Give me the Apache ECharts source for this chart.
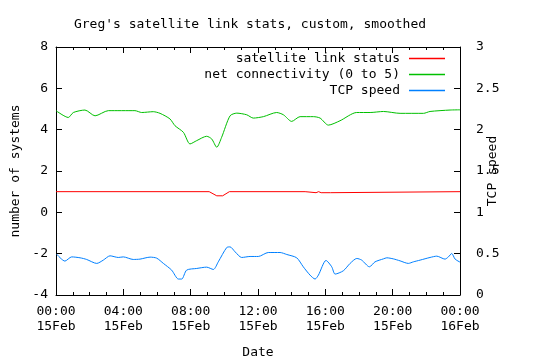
<!DOCTYPE html>
<html><head><meta charset="utf-8">
<script src="https://cdn.jsdelivr.net/npm/echarts@6/dist/echarts.min.js"></script>
<style>html,body{margin:0;padding:0;background:#fff}#c{width:540px;height:360px}</style>
</head><body><div id="c"></div>
<script>
var xTickLabels = ['00:00\n15Feb','04:00\n15Feb','08:00\n15Feb','12:00\n15Feb','16:00\n15Feb','20:00\n15Feb','00:00\n16Feb'];
var seriesNames = ['satellite link status','net connectivity (0 to 5)','TCP speed'];

var statusHours = [0, 9.1, 9.55, 9.9, 10.3, 14.8, 14.9, 15.45, 15.6, 15.75, 16.3, 16.4, 24];
var statusValues = [1, 1, 0.8, 0.8, 1, 1, 0.95, 0.95, 1, 0.95, 0.95, 1, 1];

var connHours = [0, 0.73, 1.03, 1.72, 2.32, 3.11, 4.69, 5.09, 5.78, 6.18, 6.77, 7.07, 7.57, 7.96, 8.36, 8.95, 9.25, 9.55, 9.84, 10.34, 10.74, 11.33, 11.72, 12.32, 13.11, 13.51, 14.0, 14.5, 15.29, 15.69, 16.18, 16.87, 17.86, 18.66, 19.45, 20.44, 21.83, 22.22, 23.41, 24];
var connValues = [4.92, 4.59, 4.83, 4.95, 4.67, 4.92, 4.92, 4.83, 4.87, 4.79, 4.52, 4.19, 3.87, 3.31, 3.47, 3.68, 3.55, 3.15, 3.63, 4.67, 4.80, 4.72, 4.56, 4.63, 4.83, 4.72, 4.40, 4.63, 4.63, 4.56, 4.22, 4.43, 4.83, 4.83, 4.88, 4.79, 4.79, 4.88, 4.95, 4.96];

var tcpHours = [0.04, 0.53, 0.93, 1.43, 1.82, 2.42, 2.81, 3.21, 3.70, 4.0, 4.59, 4.99, 5.59, 5.98, 6.38, 6.87, 7.27, 7.47, 7.76, 8.36, 8.95, 9.35, 9.64, 10.14, 10.34, 10.64, 11.03, 11.53, 12.02, 12.61, 13.31, 13.71, 14.30, 14.69, 15.09, 15.39, 15.59, 16.04, 16.38, 16.58, 17.07, 17.47, 17.87, 18.16, 18.62, 18.95, 19.45, 19.65, 20.04, 20.44, 20.93, 21.23, 21.63, 22.22, 22.62, 23.11, 23.31, 23.51, 23.71, 24];
var tcpValues = [0.494, 0.41, 0.461, 0.45, 0.43, 0.382, 0.422, 0.474, 0.454, 0.461, 0.43, 0.434, 0.458, 0.446, 0.382, 0.301, 0.193, 0.193, 0.301, 0.321, 0.337, 0.309, 0.401, 0.574, 0.582, 0.522, 0.454, 0.466, 0.466, 0.514, 0.514, 0.49, 0.45, 0.341, 0.241, 0.193, 0.241, 0.418, 0.341, 0.253, 0.293, 0.382, 0.442, 0.422, 0.341, 0.401, 0.437, 0.45, 0.437, 0.413, 0.382, 0.401, 0.422, 0.454, 0.47, 0.434, 0.461, 0.502, 0.434, 0.398];

function zip(a, b) { return a.map(function (v, i) { return [v, b[i]]; }); }

var FONT = 'DejaVu Sans Mono';
var txt = { fontFamily: FONT, fontSize: 13, color: '#000' };
var colors = ['#ff0000', '#00c000', '#0080ff'];

function legendFor(i, top) {
  return {
    data: [{ name: seriesNames[i], icon: 'rect', itemStyle: { color: colors[i], borderWidth: 0, opacity: 1 } }],
    right: 90, top: top, align: 'right',
    itemWidth: 36, itemHeight: 1.5, itemGap: 0,
    textStyle: Object.assign({}, txt, { padding: [0, 4, 0, 0] }),
    selectedMode: false
  };
}

var chart = echarts.init(document.getElementById('c'));
chart.setOption({
  animation: false,
  backgroundColor: '#fff',
  color: colors,
  title: { text: "Greg's satellite link stats, custom, smoothed", left: 245, top: 13, textAlign: 'center',
    textStyle: Object.assign({}, txt, { fontWeight: 'normal' }) },
  legend: [legendFor(0, 47), legendFor(1, 63), legendFor(2, 79)],
  grid: { left: 56, right: 80, top: 47, bottom: 65, containLabel: false, outerBoundsMode: 'none' },
  xAxis: [{
    type: 'value', min: 0, max: 24, interval: 4,
    name: 'Date', nameLocation: 'middle', nameGap: 51, nameTextStyle: txt, nameMoveOverlap: false,
    axisLine: { show: true, onZero: false, lineStyle: { color: '#000', width: 1 } },
    axisTick: { inside: true, length: 6, lineStyle: { color: '#000' } },
    minorTick: { show: true, splitNumber: 4, length: 3, lineStyle: { color: '#000' } },
    splitLine: { show: false },
    axisLabel: Object.assign({}, txt, { lineHeight: 15, margin: 9,
      formatter: function (v) { return xTickLabels[Math.round(v / 4)]; } })
  }, {
    type: 'value', min: 0, max: 24, interval: 4, position: 'top',
    axisLine: { show: true, onZero: false, lineStyle: { color: '#000', width: 1 } },
    axisTick: { inside: true, length: 6, lineStyle: { color: '#000' } },
    minorTick: { show: true, splitNumber: 4, length: 3, lineStyle: { color: '#000' } },
    splitLine: { show: false }, axisLabel: { show: false }
  }],
  yAxis: [{
    type: 'value', min: -4, max: 8, interval: 2,
    name: 'number of systems', nameLocation: 'middle', nameGap: 34, nameRotate: 90, nameTextStyle: txt, nameMoveOverlap: false,
    axisLine: { show: true, onZero: false, lineStyle: { color: '#000', width: 1 } },
    axisTick: { inside: true, length: 6, lineStyle: { color: '#000' } },
    splitLine: { show: false },
    axisLabel: Object.assign({}, txt, { margin: 8 })
  }, {
    type: 'value', min: 0, max: 3, interval: 0.5,
    name: 'TCP speed', nameLocation: 'middle', nameGap: 26, nameRotate: 90, nameTextStyle: txt, nameMoveOverlap: false,
    axisLine: { show: true, onZero: false, lineStyle: { color: '#000', width: 1 } },
    axisTick: { inside: true, length: 6, lineStyle: { color: '#000' } },
    splitLine: { show: false },
    axisLabel: Object.assign({}, txt, { margin: 16 })
  }],
  series: [{
    name: seriesNames[0], type: 'line', data: zip(statusHours, statusValues),
    showSymbol: false, symbol: 'none', itemStyle: { color: colors[0] }, lineStyle: { width: 1, color: colors[0] }, smooth: false
  }, {
    name: seriesNames[1], type: 'line', data: zip(connHours, connValues),
    showSymbol: false, symbol: 'none', itemStyle: { color: colors[1] }, lineStyle: { width: 1, color: colors[1] }, smooth: 0.25
  }, {
    name: seriesNames[2], type: 'line', yAxisIndex: 1, data: zip(tcpHours, tcpValues),
    showSymbol: false, symbol: 'none', itemStyle: { color: colors[2] }, lineStyle: { width: 1, color: colors[2] }, smooth: 0.25
  }]
});
</script></body></html>
